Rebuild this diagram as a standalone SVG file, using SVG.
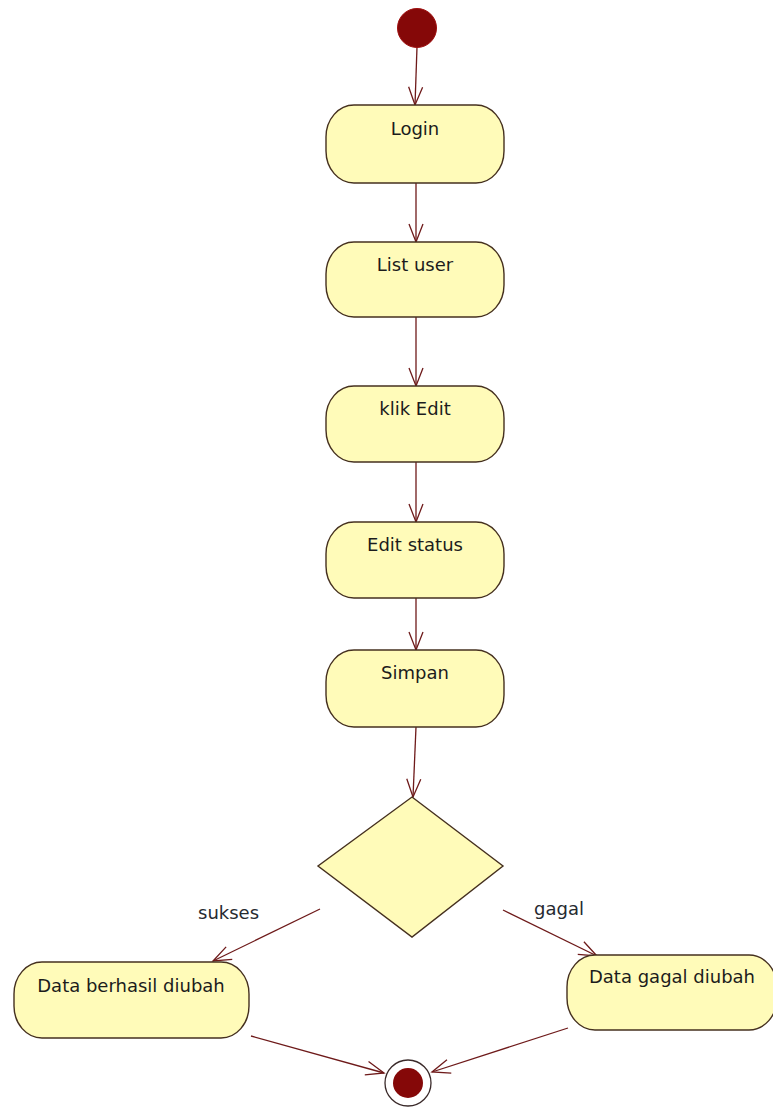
<svg xmlns="http://www.w3.org/2000/svg" width="773" height="1108" viewBox="0 0 773 1108">
<style>
.node{fill:#fffbb9;stroke:#45301f;stroke-width:1.4}
.lbl{font-family:"DejaVu Sans",sans-serif;font-size:18px;fill:#1c1c1c;text-anchor:middle}
.elbl{font-family:"DejaVu Sans",sans-serif;font-size:18px;fill:#262a30}
.edge{fill:none;stroke:#6e1a1a;stroke-width:1.3}
</style>
<defs>
<marker id="arr" markerUnits="userSpaceOnUse" markerWidth="24" markerHeight="20" viewBox="-20 -10 24 20" refX="0" refY="0" orient="auto">
<path d="M-18,-7 L0,0 L-18,7" fill="none" stroke="#6e1a1a" stroke-width="1.3"/>
</marker>
</defs>
<rect width="773" height="1108" fill="#ffffff"/>
<g id="connectors">
<path class="edge" d="M417,47 L415,105" marker-end="url(#arr)"/>
<path class="edge" d="M416,183 L416,242" marker-end="url(#arr)"/>
<path class="edge" d="M416,317 L416,386" marker-end="url(#arr)"/>
<path class="edge" d="M416,462 L416,522" marker-end="url(#arr)"/>
<path class="edge" d="M416,598 L416,650" marker-end="url(#arr)"/>
<path class="edge" d="M416,727 L413,797" marker-end="url(#arr)"/>
<path class="edge" d="M320,909 L213,961" marker-end="url(#arr)"/>
<path class="edge" d="M503,910 L597,956" marker-end="url(#arr)"/>
<path class="edge" d="M251,1036 L384,1073" marker-end="url(#arr)"/>
<path class="edge" d="M568,1028 L432,1072" marker-end="url(#arr)"/>
<text class="elbl" x="198" y="919">sukses</text>
<text class="elbl" x="534" y="915">gagal</text>
</g>
<g id="start">
<circle cx="417" cy="28" r="19.5" fill="#850808" stroke="#a01010" stroke-width="1"/>
</g>
<g id="login">
<rect class="node" x="326" y="105" width="178" height="78" rx="28" ry="32"/>
<text class="lbl" x="415" y="135">Login</text>
</g>
<g id="list-user">
<rect class="node" x="326" y="242" width="178" height="75" rx="28" ry="32"/>
<text class="lbl" x="415" y="271">List user</text>
</g>
<g id="klik-edit">
<rect class="node" x="326" y="386" width="178" height="76" rx="28" ry="32"/>
<text class="lbl" x="415" y="415">klik Edit</text>
</g>
<g id="edit-status">
<rect class="node" x="326" y="522" width="178" height="76" rx="28" ry="32"/>
<text class="lbl" x="415" y="551">Edit status</text>
</g>
<g id="simpan">
<rect class="node" x="326" y="650" width="178" height="77" rx="28" ry="32"/>
<text class="lbl" x="415" y="679">Simpan</text>
</g>
<g id="decision">
<polygon class="node" points="412,797 503,866 412,937 318,866"/>
</g>
<g id="data-berhasil">
<rect class="node" x="14" y="962" width="235" height="76" rx="28" ry="32"/>
<text class="lbl" x="131" y="992">Data berhasil diubah</text>
</g>
<g id="data-gagal">
<rect class="node" x="567" y="955" width="210" height="75" rx="28" ry="32"/>
<text class="lbl" x="672" y="983">Data gagal diubah</text>
</g>
<g id="end">
<circle cx="408" cy="1083" r="23" fill="#ffffff" stroke="#3a2a2a" stroke-width="1.3"/>
<circle cx="408" cy="1083" r="15" fill="#850808"/>
</g>
</svg>
